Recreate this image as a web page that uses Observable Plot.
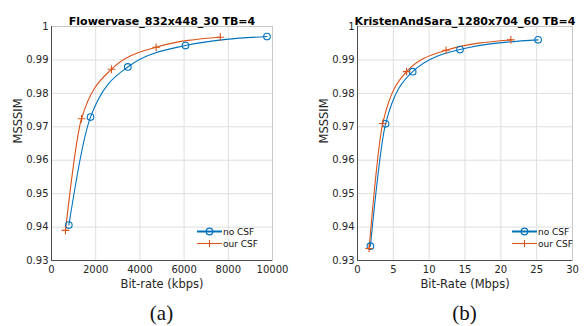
<!DOCTYPE html>
<html>
<head>
<meta charset="utf-8">
<script src="https://cdn.jsdelivr.net/npm/d3@7"></script>
<script src="https://cdn.jsdelivr.net/npm/@observablehq/plot@0.6"></script>
<style>
  html, body { margin: 0; padding: 0; background: #fff; }
  #wrap { position: relative; width: 588px; height: 326px; overflow: hidden; font-family: "DejaVu Sans", sans-serif; }
  .panel { position: absolute; top: 0; width: 294px; height: 326px; }
  .cap { position: absolute; top: 300px; width: 294px; text-align: center; font-family: "Liberation Serif", serif; font-size: 21px; line-height: 26px; color: #111; }
  .legend { position: absolute; }
</style>
</head>
<body>
<div id="wrap"></div>
<script>
// ---- data ----
const seriesNames = ["no CSF", "our CSF"];
const seriesColors = ["#0072BD", "#D95319"];

const titleA = "Flowervase_832x448_30 TB=4";
const xLabelA = "Bit-rate (kbps)";
const rateA_noCSF  = [784, 1765, 3453, 6063, 9750];
const ssimA_noCSF  = [0.9406, 0.9729, 0.9879, 0.9943, 0.9970];
const rateA_ourCSF = [633, 1357, 2715, 4735, 7640];
const ssimA_ourCSF = [0.9390, 0.9724, 0.9872, 0.9938, 0.9968];
const xTicksA = [0, 2000, 4000, 6000, 8000, 10000];

const titleB = "KristenAndSara_1280x704_60 TB=4";
const xLabelB = "Bit-Rate (Mbps)";
const rateB_noCSF  = [1.80, 3.92, 7.70, 14.3, 25.2];
const ssimB_noCSF  = [0.9343, 0.9709, 0.9865, 0.9931, 0.9960];
const rateB_ourCSF = [1.62, 3.52, 6.85, 12.35, 21.4];
const ssimB_ourCSF = [0.9336, 0.9710, 0.9865, 0.9929, 0.9960];
const xTicksB = [0, 5, 10, 15, 20, 25, 30];

const yTicks = [0.93, 0.94, 0.95, 0.96, 0.97, 0.98, 0.99, 1];
const yLabel = "MSSSIM";
const captions = ["(a)", "(b)"];

function rows(xs, ys, s) { return xs.map((x, i) => ({x, y: ys[i], s})); }

const wrap = document.getElementById("wrap");
const fontFam = "DejaVu Sans, sans-serif";

function panel(opts) {
  const {left, title, xLabel, xDomain, xTicks, data, mLeft, mRight, caption, legendLeft} = opts;
  const div = document.createElement("div");
  div.className = "panel";
  div.style.left = left + "px";
  wrap.appendChild(div);
  const W = 294, H = 300, mTop = 26, mBottom = 40;
  const noCSF = data.filter(d => d.s === seriesNames[0]);
  const ourCSF = data.filter(d => d.s === seriesNames[1]);
  const chart = Plot.plot({
    width: W, height: H,
    marginLeft: mLeft, marginRight: mRight, marginTop: mTop, marginBottom: mBottom,
    style: {fontFamily: fontFam, fontSize: "10px", color: "#262626", background: "#fff", overflow: "visible"},
    x: {domain: xDomain, ticks: xTicks, tickFormat: d => String(d), tickSize: 0, tickPadding: 7, label: null, grid: false},
    y: {domain: [0.93, 1], ticks: yTicks, tickFormat: d => String(+d.toFixed(2)), tickSize: 0, tickPadding: 7, label: null},
    marks: [
      Plot.gridX(xTicks, {stroke: "#dedede", strokeOpacity: 1}),
      Plot.gridY(yTicks, {stroke: "#dedede", strokeOpacity: 1}),
      Plot.frame({stroke: "#c8c8c8"}),
      Plot.axisX({ticks: xTicks, tickFormat: d => String(d), tickSize: 0, tickPadding: 5, label: null, fill: "#262626"}),
      Plot.axisY({ticks: yTicks, tickFormat: d => String(+d.toFixed(2)), tickSize: 0, tickPadding: 3, label: null, fill: "#262626"}),
      Plot.ruleX([xDomain[0]], {stroke: "#4d4d4d"}),
      Plot.ruleY([0.93], {stroke: "#4d4d4d"}),
      Plot.line(noCSF, {x: "x", y: "y", stroke: seriesColors[0], strokeWidth: 1.1, curve: "monotone-x"}),
      Plot.line(ourCSF, {x: "x", y: "y", stroke: seriesColors[1], strokeWidth: 1.1, curve: "monotone-x"}),
      Plot.dot(noCSF, {x: "x", y: "y", stroke: seriesColors[0], r: 3.3, strokeWidth: 1.1, fill: "none"}),
      Plot.dot(ourCSF, {x: "x", y: "y", stroke: seriesColors[1], symbol: "plus", r: 2.6, strokeWidth: 1.1}),
      Plot.text([title], {frameAnchor: "top", dy: -9, fontWeight: "bold", fontSize: 11, fill: "#000"}),
      Plot.text([xLabel], {frameAnchor: "bottom", dy: 27, fontSize: 11.5, fill: "#262626"}),
      Plot.text([yLabel], {frameAnchor: "left", dx: -33, rotate: -90, fontSize: 11.5, fill: "#262626"})
    ]
  });
  div.appendChild(chart);

  // legend overlay
  const lg = d3.select(div).append("svg").attr("class", "legend")
    .attr("width", 90).attr("height", 30)
    .style("left", legendLeft + "px").style("top", "223px");
  seriesNames.forEach((name, i) => {
    const y = 8.5 + i * 12;
    const g = lg.append("g");
    g.append("line").attr("x1", 0).attr("x2", 25).attr("y1", y).attr("y2", y)
      .attr("stroke", seriesColors[i]).attr("stroke-width", i === 0 ? 2 : 1.1);
    if (i === 0) {
      g.append("circle").attr("cx", 12.5).attr("cy", y).attr("r", 3.3)
        .attr("fill", "#fff").attr("fill-opacity", 0).attr("stroke", seriesColors[i]).attr("stroke-width", 1.2);
    } else {
      g.append("path").attr("d", `M${12.5-3.4},${y}H${12.5+3.4}M12.5,${y-3.4}V${y+3.4}`)
        .attr("stroke", seriesColors[i]).attr("stroke-width", 1.1);
    }
    g.append("text").attr("x", 26).attr("y", y).attr("dy", "0.35em")
      .attr("font-family", fontFam).attr("font-size", 9).attr("fill", "#111").text(name);
  });

  const cap = document.createElement("div");
  cap.className = "cap";
  cap.style.left = "0px";
  cap.textContent = caption;
  cap.style.paddingLeft = ((mLeft - mRight)) + "px";
  cap.style.boxSizing = "border-box";
  div.appendChild(cap);
}

panel({
  left: 0, title: titleA, xLabel: xLabelA, xDomain: [0, 10000], xTicks: xTicksA,
  data: rows(rateA_noCSF, ssimA_noCSF, seriesNames[0]).concat(rows(rateA_ourCSF, ssimA_ourCSF, seriesNames[1])),
  mLeft: 51, mRight: 22, caption: captions[0], legendLeft: 197
});
panel({
  left: 294, title: titleB, xLabel: xLabelB, xDomain: [0, 30], xTicks: xTicksB,
  data: rows(rateB_noCSF, ssimB_noCSF, seriesNames[0]).concat(rows(rateB_ourCSF, ssimB_ourCSF, seriesNames[1])),
  mLeft: 63, mRight: 16, caption: captions[1], legendLeft: 218
});
</script>
</body>
</html>
